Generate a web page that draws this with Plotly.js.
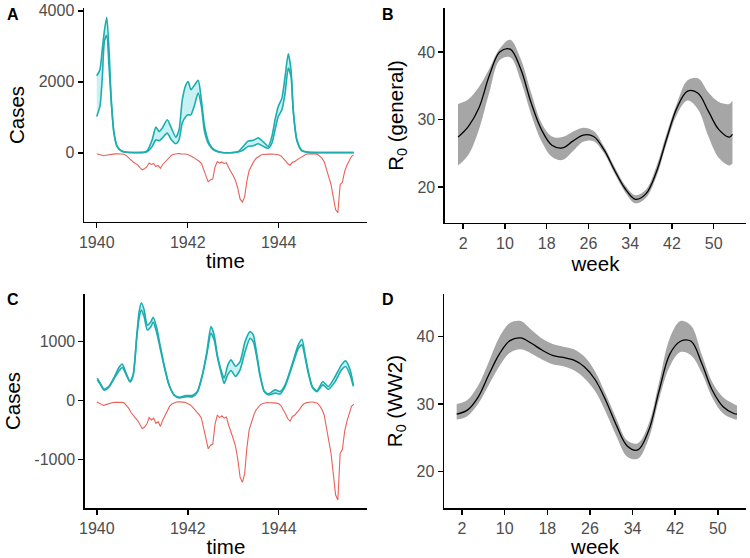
<!DOCTYPE html>
<html>
<head>
<meta charset="utf-8">
<script src="https://cdn.plot.ly/plotly-3.0.1.min.js"></script>
<style>html,body{margin:0;padding:0;background:#fff;}#chart{width:750px;height:558px;}</style>
</head>
<body>
<div id="chart"></div>
<script>
// ---------- Panel A: model fit (upper / lower bound of simulated cases) ----------
const timeA = [1940.0, 1940.07, 1940.12, 1940.17, 1940.22, 1940.27, 1940.32, 1940.38, 1940.45, 1940.55, 1940.7, 1940.9,
  1941.05, 1941.12, 1941.22, 1941.3, 1941.37, 1941.44, 1941.55, 1941.64, 1941.74, 1941.81, 1941.88, 1941.96,
  1942.01, 1942.07, 1942.14, 1942.23, 1942.3, 1942.37, 1942.47, 1942.58, 1942.75, 1943.0, 1943.11, 1943.22,
  1943.33, 1943.44, 1943.55, 1943.66, 1943.77, 1943.85, 1943.92, 1943.99, 1944.07, 1944.14, 1944.21, 1944.27,
  1944.32, 1944.4, 1944.51, 1944.7, 1945.0, 1945.3, 1945.65];
const upperA = [2170, 2340, 2900, 3450, 3820, 2900, 1490, 560, 180, 50, 10, 8,
  20, 80, 370, 723, 600, 695, 930, 695, 441, 648, 1490, 1915,
  2010, 1775, 1890, 2040, 1490, 740, 273, 85, 10, 8, 40, 180,
  330, 350, 420, 310, 180, 460, 930, 1305, 1540, 2150, 2790, 2340,
  1211, 366, 65, 10, 8, 8, 8];
const lowerA = [1023, 1305, 2056, 3150, 3300, 2430, 1400, 530, 170, 45, 8, 5,
  10, 40, 180, 366, 338, 413, 554, 366, 254, 366, 836, 1023,
  1070, 1070, 1305, 1680, 1305, 600, 220, 70, 8, 5, 20, 80,
  180, 197, 254, 180, 130, 272, 648, 1023, 1211, 1680, 2385, 2150,
  1150, 340, 55, 8, 5, 5, 5];

// ---------- Panel C: model fit (WW2 model) ----------
const timeC = [1940.01, 1940.09, 1940.16, 1940.27, 1940.38, 1940.49, 1940.56, 1940.64, 1940.73, 1940.8, 1940.88, 1940.93,
  1940.98, 1941.04, 1941.11, 1941.19, 1941.24, 1941.32, 1941.39, 1941.48, 1941.59, 1941.7, 1941.81, 1941.96,
  1942.1, 1942.21, 1942.32, 1942.42, 1942.51, 1942.58, 1942.65, 1942.73, 1942.8, 1942.88, 1942.95, 1943.05,
  1943.15, 1943.26, 1943.37, 1943.44, 1943.52, 1943.59, 1943.68, 1943.77, 1943.92, 1944.03, 1944.14, 1944.29,
  1944.43, 1944.51, 1944.58, 1944.65, 1944.74, 1944.84, 1944.97, 1945.09, 1945.24, 1945.38, 1945.47, 1945.57, 1945.64];
const upperC = [380, 275, 190, 245, 390, 565, 620, 470, 325, 440, 1113, 1508,
  1660, 1540, 1283, 1339, 1413, 1227, 944, 605, 266, 97, 55, 85,
  85, 153, 436, 831, 1254, 1113, 775, 520, 380, 600, 690, 580,
  661, 1000, 1170, 1113, 775, 436, 164, 108, 181, 153, 266, 605,
  944, 1040, 775, 492, 237, 164, 322, 237, 407, 605, 673, 520, 266];
const lowerC = [350, 258, 175, 230, 370, 503, 560, 450, 315, 425, 1080, 1397,
  1537, 1425, 1198, 1254, 1330, 1142, 900, 580, 255, 90, 45, 65,
  65, 140, 420, 790, 1142, 1030, 740, 480, 290, 440, 510, 410,
  520, 831, 1057, 1000, 720, 410, 150, 95, 125, 110, 240, 570,
  880, 944, 730, 460, 220, 150, 266, 190, 320, 520, 577, 430, 240];

// ---------- Observed cases (drawn mirrored below zero in A and C) ----------
const timeObs = [1940.00,1940.05,1940.10,1940.15,1940.20,1940.25,1940.30,1940.35,1940.40,1940.45,1940.50,1940.55,
  1940.60,1940.65,1940.70,1940.75,1940.80,1940.85,1940.90,1940.95,1941.00,1941.05,1941.10,1941.15,
  1941.20,1941.25,1941.30,1941.35,1941.40,1941.45,1941.50,1941.55,1941.60,1941.65,1941.70,1941.75,
  1941.80,1941.85,1941.90,1941.95,1942.00,1942.05,1942.10,1942.15,1942.20,1942.25,1942.30,1942.35,
  1942.40,1942.45,1942.50,1942.55,1942.60,1942.65,1942.70,1942.75,1942.80,1942.85,1942.90,1942.95,
  1943.00,1943.05,1943.10,1943.15,1943.20,1943.25,1943.30,1943.35,1943.40,1943.45,1943.50,1943.55,
  1943.60,1943.65,1943.70,1943.75,1943.80,1943.85,1943.90,1943.95,1944.00,1944.05,1944.10,1944.15,
  1944.20,1944.25,1944.30,1944.35,1944.40,1944.45,1944.50,1944.55,1944.60,1944.65,1944.70,1944.75,
  1944.80,1944.85,1944.90,1944.95,1945.00,1945.05,1945.10,1945.15,1945.20,1945.25,1945.30,1945.35,
  1945.40,1945.45,1945.50,1945.55,1945.60,1945.65];
const observed = [25,45,60,85,70,55,40,35,30,28,25,32,
  40,80,130,200,260,300,340,420,480,450,400,290,
  330,300,390,360,440,330,260,180,100,60,40,25,
  20,30,28,35,50,70,110,150,190,240,300,480,
  700,820,760,740,400,250,290,260,300,280,420,520,
  650,780,1000,1300,1390,1250,800,500,350,250,160,110,
  70,50,40,35,38,35,40,45,55,90,150,230,
  310,350,270,250,200,160,100,60,40,30,25,25,
  30,45,90,150,250,480,700,900,1250,1600,1690,900,
  830,520,350,200,100,60];

// ---------- Panel B: seasonal R0 (general) ----------
const weeks = [1,3,5,7,9,11,13,15,17,19,21,23,25,27,29,31,33,35,37,39,41,43,45,47,49,51,53,53.6];
const r0GenMid = [27.4,29.0,31.7,36.5,40.0,40.4,37.5,32.5,28.5,26.2,25.8,26.8,27.7,27.5,25.5,22.5,19.8,18.2,19.0,22.2,27.2,31.8,34.2,33.9,31.2,28.5,27.4,27.8];
const r0GenHi  = [32.3,33.0,34.8,37.5,40.5,41.8,39.0,34.0,29.5,27.5,27.4,28.2,28.8,28.3,26.0,23.0,20.3,18.8,19.6,23.0,28.0,32.5,35.8,36.1,34.0,32.6,32.3,32.8];
const r0GenLo  = [23.2,24.8,28.5,34.0,38.8,39.2,35.8,30.8,26.8,24.5,24.0,25.3,26.7,26.8,25.0,22.0,19.3,17.6,18.4,21.5,26.5,30.8,32.8,31.5,27.5,24.3,23.2,23.5];

// ---------- Panel D: seasonal R0 (WW2) ----------
const r0WarMid = [28.5,29.1,31.0,34.3,37.4,39.4,39.8,39.0,38.0,37.2,36.9,36.5,35.5,33.6,30.5,26.8,23.8,23.2,26.0,32.0,37.4,39.3,39.3,36.0,32.0,29.6,28.6,28.5];
const r0WarHi  = [30.0,30.6,32.7,36.2,39.9,42.0,42.3,41.0,39.7,38.9,38.5,38.1,37.0,34.8,31.4,27.8,24.6,24.2,27.0,33.3,39.8,42.3,41.6,37.3,33.2,31.0,30.0,29.8];
const r0WarLo  = [27.7,28.2,30.0,32.8,35.6,37.6,38.1,37.5,36.6,35.9,35.6,35.0,33.8,31.9,28.8,25.2,22.2,21.9,24.8,30.8,35.6,37.7,37.2,34.6,30.9,28.6,27.8,27.7];

const yearTicks = [1940, 1942, 1944];
const weekTicks = [2, 10, 18, 26, 34, 42, 50];

// ---------- styling ----------
const TEAL = '#1DADB0';
const TEAL_FILL = 'rgba(0,191,196,0.22)';
const RED = '#E8625B';
const GREY = '#A6A6A6';
const FONT = 'Liberation Sans, Arial, sans-serif';

function neg(arr) { return arr.map(v => -v); }

function casesTraces(t, lo, hi, xa, ya) {
  return [
    {x: timeObs, y: neg(observed), xaxis: xa, yaxis: ya, mode: 'lines', line: {color: RED, width: 1.1}, hoverinfo: 'skip'},
    {x: t, y: lo, xaxis: xa, yaxis: ya, mode: 'lines', line: {color: TEAL, width: 1.6, shape: 'spline', smoothing: 0.6}, hoverinfo: 'skip'},
    {x: t, y: hi, xaxis: xa, yaxis: ya, mode: 'lines', fill: 'tonexty', fillcolor: TEAL_FILL, line: {color: TEAL, width: 1.6, shape: 'spline', smoothing: 0.6}, hoverinfo: 'skip'}
  ];
}
function r0Traces(mid, lo, hi, xa, ya) {
  return [
    {x: weeks, y: lo, xaxis: xa, yaxis: ya, mode: 'lines', line: {color: GREY, width: 0, shape: 'spline'}, hoverinfo: 'skip'},
    {x: weeks, y: hi, xaxis: xa, yaxis: ya, mode: 'lines', fill: 'tonexty', fillcolor: GREY, line: {color: GREY, width: 0, shape: 'spline'}, hoverinfo: 'skip'},
    {x: weeks, y: mid, xaxis: xa, yaxis: ya, mode: 'lines', line: {color: 'black', width: 1.3, shape: 'spline'}, hoverinfo: 'skip'}
  ];
}

const data = [].concat(
  casesTraces(timeA, lowerA, upperA, 'x', 'y'),
  r0Traces(r0GenMid, r0GenLo, r0GenHi, 'x2', 'y2'),
  casesTraces(timeC, lowerC, upperC, 'x3', 'y3'),
  r0Traces(r0WarMid, r0WarLo, r0WarHi, 'x4', 'y4')
);

const axBase = {
  showline: true, linecolor: 'black', linewidth: 1.5,
  ticks: 'outside', ticklen: 5, tickwidth: 1.5, tickcolor: 'black',
  showgrid: false, zeroline: false,
  tickfont: {family: FONT, size: 16, color: '#4D4D4D'},
  fixedrange: true
};
function xax(domain, range, tickvals, anchor, title) {
  return Object.assign({}, axBase, {domain, range, tickvals, ticktext: tickvals.map(String), anchor,
    title: {text: title, font: {family: FONT, size: 20.5, color: 'black'}, standoff: 4}});
}
function yax(domain, range, tickvals, anchor, title) {
  return Object.assign({}, axBase, {domain, range, tickvals, ticktext: tickvals.map(String), anchor,
    title: {text: title, font: {family: FONT, size: 20.5, color: 'black'}, standoff: 8}});
}

const layout = {
  width: 750, height: 558,
  margin: {l: 0, r: 0, t: 0, b: 0},
  paper_bgcolor: 'white', plot_bgcolor: 'white',
  showlegend: false,
  xaxis:  xax([0.112, 0.4893], [1939.72, 1945.94], yearTicks, 'y', 'time'),
  yaxis:  yax([0.6022, 0.9857], [-1950, 4080], [0, 2000, 4000], 'x', 'Cases'),
  xaxis2: xax([0.5933, 0.9947], [-1.5, 56.2], weekTicks, 'y2', 'week'),
  yaxis2: yax([0.6004, 0.9857], [14.7, 46.5], [20, 30, 40], 'x2', 'R<sub>0</sub> (general)'),
  xaxis3: xax([0.1133, 0.4893], [1939.74, 1945.94], yearTicks, 'y3', 'time'),
  yaxis3: yax([0.0896, 0.4731], [-1825, 1808], [-1000, 0, 1000], 'x3', 'Cases'),
  xaxis4: xax([0.592, 0.9947], [-1.38, 55.3], weekTicks, 'y4', 'week'),
  yaxis4: yax([0.0896, 0.4731], [14.6, 46.3], [20, 30, 40], 'x4', 'R<sub>0</sub> (WW2)'),
  annotations: [
    {text: '<b>A</b>', x: 5/750, y: 1 - 4/558, xref: 'paper', yref: 'paper', xanchor: 'left', yanchor: 'top', showarrow: false, font: {family: FONT, size: 16, color: 'black'}},
    {text: '<b>B</b>', x: 380/750, y: 1 - 4/558, xref: 'paper', yref: 'paper', xanchor: 'left', yanchor: 'top', showarrow: false, font: {family: FONT, size: 16, color: 'black'}},
    {text: '<b>C</b>', x: 5/750, y: 1 - 289/558, xref: 'paper', yref: 'paper', xanchor: 'left', yanchor: 'top', showarrow: false, font: {family: FONT, size: 16, color: 'black'}},
    {text: '<b>D</b>', x: 380/750, y: 1 - 289/558, xref: 'paper', yref: 'paper', xanchor: 'left', yanchor: 'top', showarrow: false, font: {family: FONT, size: 16, color: 'black'}}
  ]
};

Plotly.newPlot('chart', data, layout, {staticPlot: true, displayModeBar: false});
</script>
</body>
</html>
